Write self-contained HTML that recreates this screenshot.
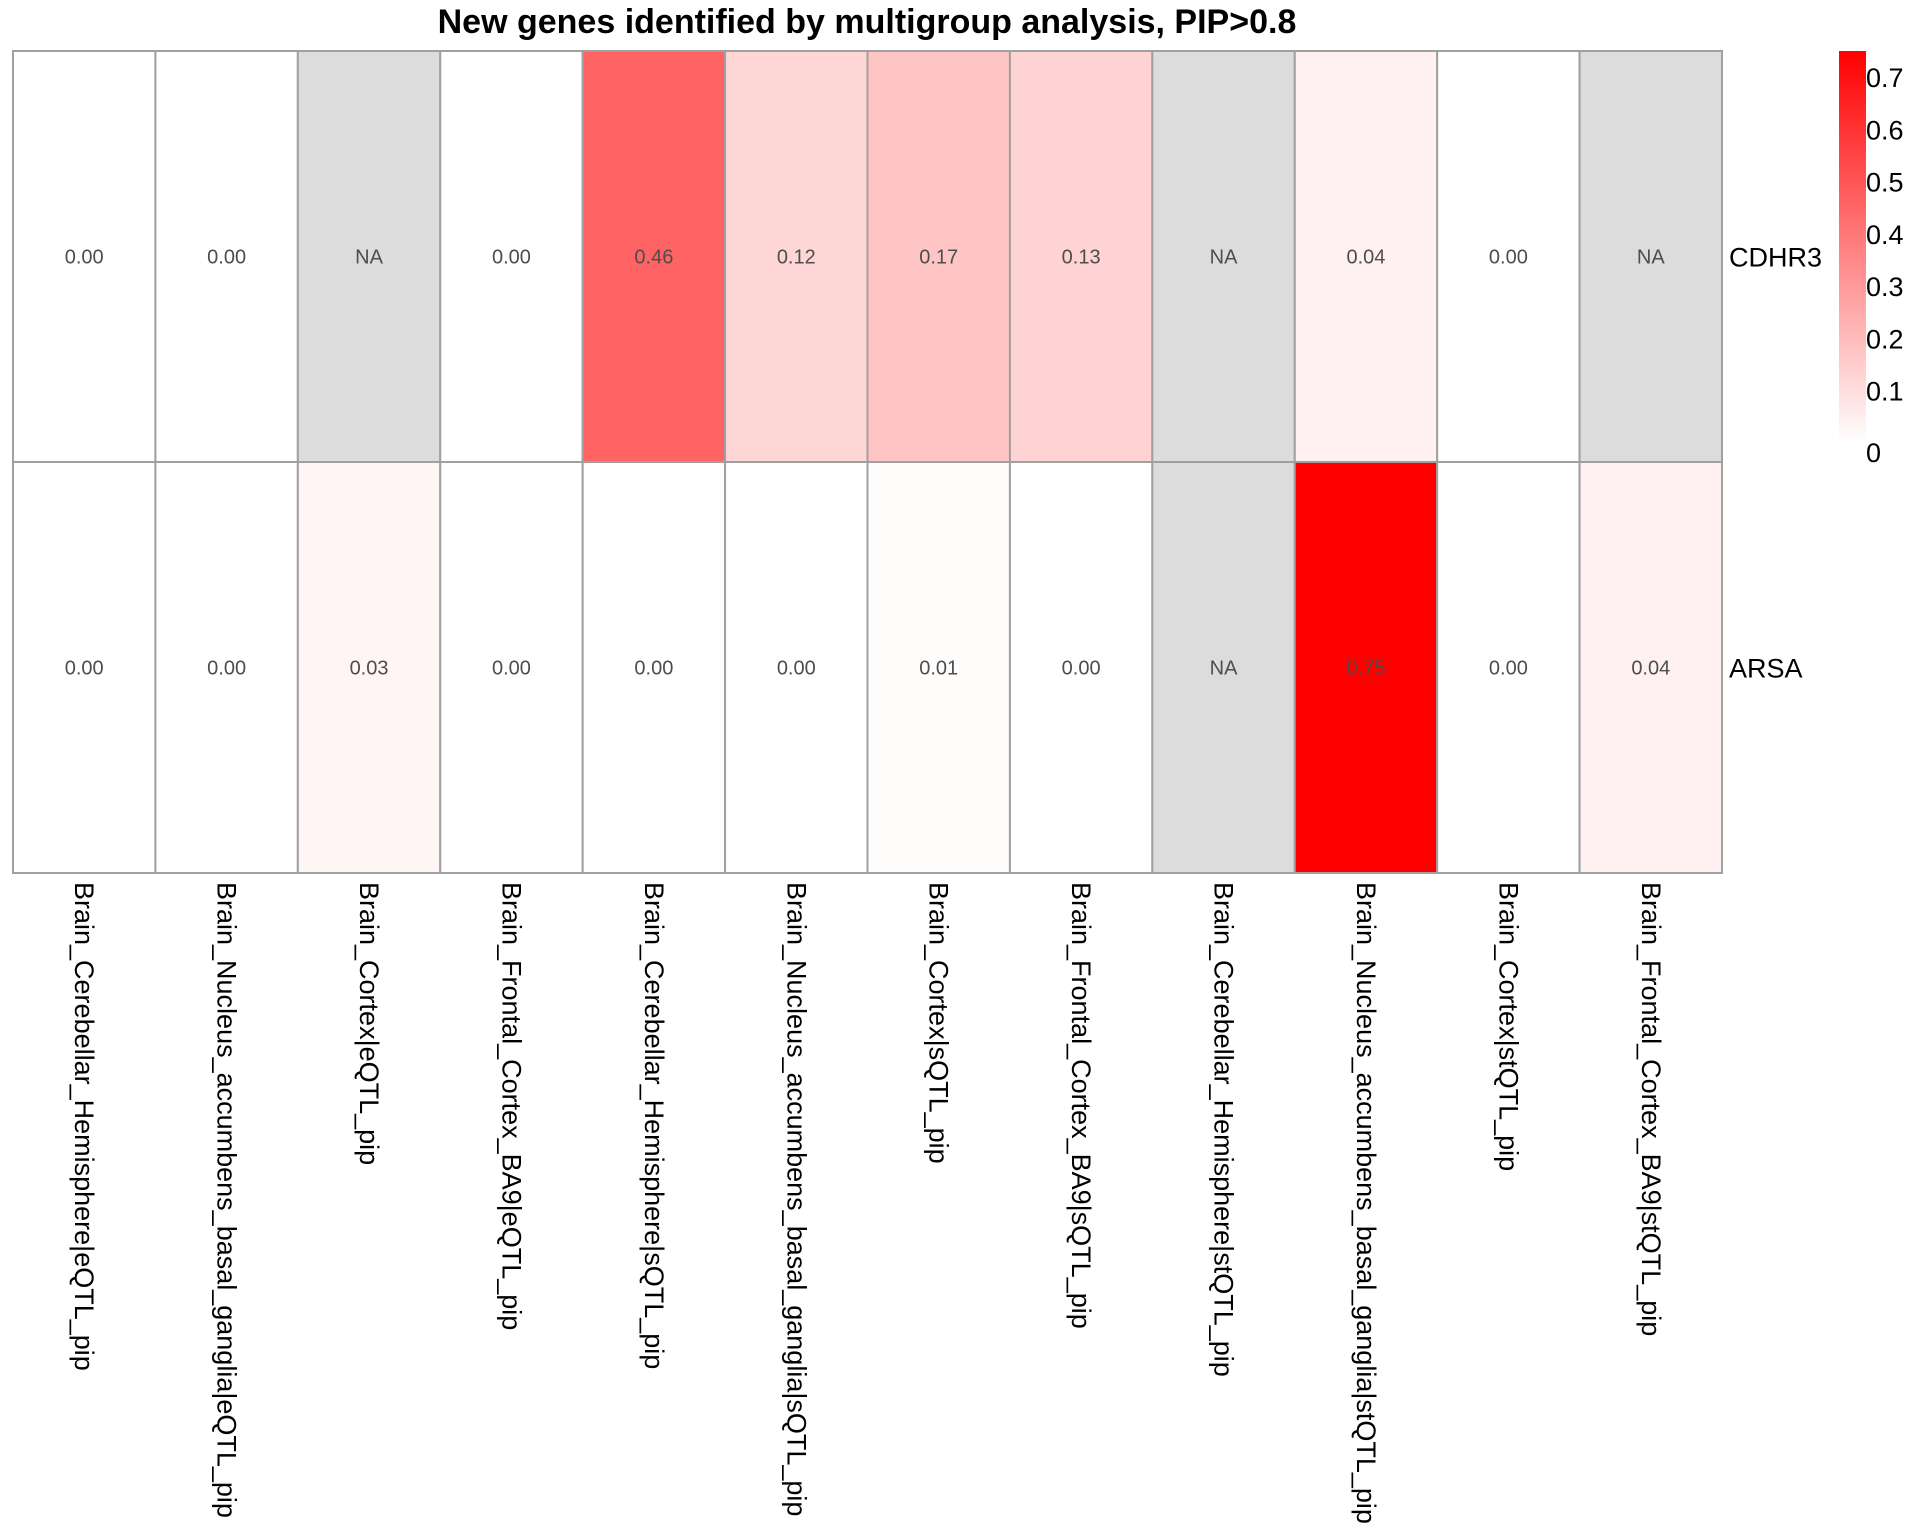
<!DOCTYPE html>
<html><head><meta charset="utf-8"><style>
html,body{margin:0;padding:0;background:#fff;}
svg{display:block;font-family:"Liberation Sans",sans-serif;}
</style></head><body>
<svg id="chart" width="1920" height="1536" viewBox="0 0 1920 1536" xmlns="http://www.w3.org/2000/svg">
<text x="867" y="33" text-anchor="middle" font-size="34" font-weight="bold" fill="#000">New genes identified by multigroup analysis, PIP&gt;0.8</text>
<g id="cells"></g>
<g id="legend"></g>
</svg>
<script>
const columns = ["Brain_Cerebellar_Hemisphere|eQTL_pip","Brain_Nucleus_accumbens_basal_ganglia|eQTL_pip","Brain_Cortex|eQTL_pip","Brain_Frontal_Cortex_BA9|eQTL_pip","Brain_Cerebellar_Hemisphere|sQTL_pip","Brain_Nucleus_accumbens_basal_ganglia|sQTL_pip","Brain_Cortex|sQTL_pip","Brain_Frontal_Cortex_BA9|sQTL_pip","Brain_Cerebellar_Hemisphere|stQTL_pip","Brain_Nucleus_accumbens_basal_ganglia|stQTL_pip","Brain_Cortex|stQTL_pip","Brain_Frontal_Cortex_BA9|stQTL_pip"];
const rows = ["CDHR3","ARSA"];
const valuesCDHR3 = [0.00,0.00,null,0.00,0.46,0.12,0.17,0.13,null,0.04,0.00,null];
const valuesARSA = [0.00,0.00,0.03,0.00,0.00,0.00,0.01,0.00,null,0.75,0.00,0.04];
const legendTicks = [0,0.1,0.2,0.3,0.4,0.5,0.6,0.7];
const legendTickLabels = ["0","0.1","0.2","0.3","0.4","0.5","0.6","0.7"];
const colorMax = 0.75;

const NS="http://www.w3.org/2000/svg";
const gx0=13, gx1=1722, gy0=51, gy1=873;
const cw=(gx1-gx0)/columns.length, rh=(gy1-gy0)/rows.length;
const xPos=i=>gx0+i*cw, yPos=j=>gy0+j*rh;
function color(v){
  if(v===null) return "#dcdcdc";
  const t=Math.max(0,Math.min(1,v/colorMax));
  const g=Math.round(255*(1-t));
  return `rgb(255,${g},${g})`;
}
function mk(tag,attrs,parent){const e=document.createElementNS(NS,tag);for(const k in attrs)e.setAttribute(k,attrs[k]);parent.appendChild(e);return e;}
const cells=document.getElementById('cells');
const data=[valuesCDHR3,valuesARSA];
data.forEach((vals,j)=>{
  vals.forEach((v,i)=>{
    const r=mk('rect',{x:xPos(i),y:yPos(j),width:cw,height:rh,fill:color(v),stroke:"#a0a0a0","stroke-width":2},cells);
    
    
    const t=mk('text',{x:xPos(i)+cw/2,y:yPos(j)+rh/2+7,"text-anchor":"middle","font-size":20,fill:"#4d4d4d"},cells);
    t.textContent=v===null?"NA":v.toFixed(2);
    
    
  });
  const rl=mk('text',{x:gx1+7,y:yPos(j)+rh/2+10,"font-size":27,fill:"#000"},cells);
  rl.textContent=rows[j];
  
  
});
columns.forEach((c,i)=>{
  const cx=xPos(i)+cw/2;
  const t=mk('text',{x:0,y:0,"font-size":27,fill:"#000",transform:`translate(${cx-9},${gy1+9}) rotate(90)`},cells);
  t.textContent=c;
  
  
});
const lg=document.getElementById('legend');
const defs=mk('defs',{},lg);
const grad=mk('linearGradient',{id:'lgGrad',x1:0,y1:1,x2:0,y2:0},defs);
mk('stop',{offset:0,"stop-color":"#ffffff"},grad);
mk('stop',{offset:1,"stop-color":"#ff0000"},grad);
const lx=1839, lw=27, ly0=51, ly1=443;
const lyPos=v=>ly1-(v/colorMax)*(ly1-ly0);
const bar=mk('rect',{x:lx,y:ly0,width:lw,height:ly1-ly0,fill:"url(#lgGrad)"},lg);


legendTicks.forEach((v,k)=>{
  let y=lyPos(v); if(v===0) y+=9;
  const t=mk('text',{x:1866,y:y+10,"font-size":27,fill:"#000"},lg);
  t.textContent=legendTickLabels[k];
  
  
});
</script>
</body></html>
